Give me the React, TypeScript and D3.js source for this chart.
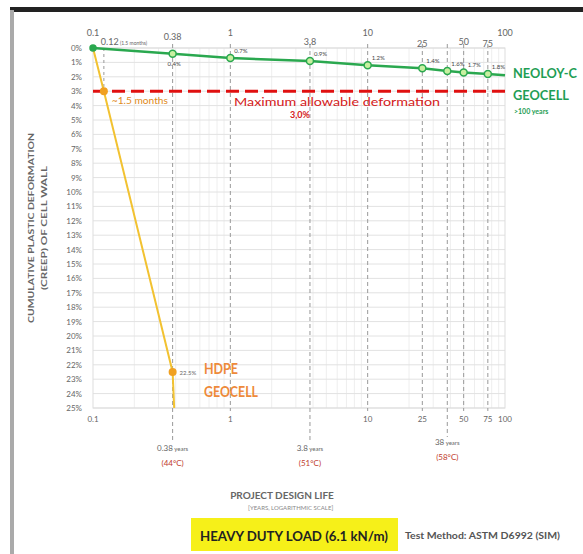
import React from 'react';
import * as d3 from 'd3';

// 数据：年份（对数轴）与累计塑性变形（%）
const neoloyYears = [0.1, 0.38, 1, 3.8, 10, 25, 38, 50, 75, 100];
const neoloyCreep = [0, 0.4, 0.7, 0.9, 1.2, 1.4, 1.6, 1.7, 1.8, 1.9];
const neoloyMarked = [true, true, true, true, true, true, true, true, true, false];
const neoloyLabels = ['', '0.4%', '0.7%', '0.9%', '1.2%', '1.4%', '1.6%', '1.7%', '1.8%', ''];

const hdpeYears = [0.1, 0.12, 0.38, 0.39];
const hdpeCreep = [0, 3, 22.5, 25];
const hdpeMarked = [false, true, true, false];

const yTicks = d3.range(0, 26);
const topTicks = [
  { v: 0.1, t: '0.1', dy: 0 },
  { v: 0.38, t: '0.38', dy: 4 },
  { v: 1, t: '1', dy: 0 },
  { v: 3.8, t: '3.8', dy: 9 },
  { v: 10, t: '10', dy: 0 },
  { v: 25, t: '25', dy: 11 },
  { v: 50, t: '50', dy: 9 },
  { v: 75, t: '75', dy: 11 },
  { v: 100, t: '100', dy: 0 },
];
const bottomTicks = [0.1, 1, 10, 25, 50, 75, 100];
const longDashed = [0.38, 3.8, 38];
const plotDashed = [1, 10, 25, 50, 75];
const stageLabels = [
  { v: 0.38, t: '0.38', temp: '(44°C)', dy: 0 },
  { v: 3.8, t: '3.8', temp: '(51°C)', dy: 0 },
  { v: 38, t: '38', temp: '(58°C)', dy: -6 },
];
const maxDeform = 3;

const W = 583, H = 554;
const left = 93, right = 505, top = 48, bottom = 408;

export default function App() {
  const x = d3.scaleLog().domain([0.1, 100]).range([left, right]);
  const y = d3.scaleLinear().domain([0, 25]).range([top, bottom]);

  // 次级对数网格
  const minor: number[] = [];
  [0.1, 1, 10].forEach(d => { for (let i = 2; i < 10; i++) minor.push(d * i); });

  const line = d3.line<[number, number]>().x(d => x(d[0])).y(d => y(d[1]));
  const neoPts = neoloyYears.map((v, i) => [v, neoloyCreep[i]] as [number, number]);
  const hdpePts = hdpeYears.map((v, i) => [v, hdpeCreep[i]] as [number, number]);

  const font = 'Lato, "Open Sans", sans-serif';
  const gray = '#666';

  return (
    <svg width={W} height={H} style={{ position: 'absolute', left: 0, top: 0, background: '#fff' }} fontFamily={font}>
      {/* 照片边框 */}
      <rect x={10} y={7} width={W - 10} height={5} fill="#222" />
      <rect x={10} y={10} width={4} height={H - 10} fill="#aaa" />

      {/* 网格 */}
      {minor.map(v => (
        <line key={'m' + v} x1={x(v)} x2={x(v)} y1={top} y2={bottom} stroke="#eee" strokeWidth={1} />
      ))}
      {yTicks.map(t => (
        <line key={'g' + t} x1={left} x2={right} y1={y(t)} y2={y(t)} stroke="#e2e2e2" strokeWidth={1} />
      ))}
      <rect x={left} y={top} width={right - left} height={bottom - top} fill="none" stroke="#ddd" />

      {/* 竖直虚线 */}
      {plotDashed.map(v => (
        <line key={'d' + v} x1={x(v)} x2={x(v)} y1={top - 4} y2={bottom + 3} stroke="#999" strokeDasharray="4,3" />
      ))}
      {longDashed.map(v => (
        <line key={'l' + v} x1={x(v)} x2={x(v)} y1={top - 4} y2={v === 38 ? 437 : 443} stroke="#999" strokeDasharray="4,3" />
      ))}
      <line x1={x(0.12)} x2={x(0.12)} y1={top} y2={y(maxDeform)} stroke="#999" strokeDasharray="3,3" />

      {/* Y 轴刻度 */}
      {yTicks.map(t => (
        <text key={'y' + t} x={82} y={y(t) + 3} textAnchor="end" fontSize={8} fill={gray}>{t}%</text>
      ))}
      <g transform={`translate(34, ${(top + bottom) / 2}) rotate(-90)`}>
        <text textAnchor="middle" fontSize={7} fontWeight="bold" fill={gray} textLength={190} lengthAdjust="spacingAndGlyphs">CUMULATIVE PLASTIC DEFORMATION</text>
        <text y={13} textAnchor="middle" fontSize={7} fontWeight="bold" fill={gray} textLength={124} lengthAdjust="spacingAndGlyphs">(CREEP) OF CELL WALL</text>
      </g>

      {/* 顶部刻度 */}
      {topTicks.map(d => (
        <text key={'t' + d.v} x={x(d.v)} y={36 + d.dy} textAnchor="middle" fontSize={9} fill={gray}>{d.t}</text>
      ))}
      <text x={x(0.12) - 3} y={45} fontSize={9} fill={gray}>0.12<tspan fontSize={5}> (1.5 months)</tspan></text>

      {/* 底部刻度 */}
      {bottomTicks.map(v => (
        <text key={'b' + v} x={x(v)} y={422} textAnchor="middle" fontSize={8} fill={gray}>{v}</text>
      ))}
      {stageLabels.map(d => (
        <g key={'s' + d.v}>
          <text x={x(d.v)} y={451 + d.dy} textAnchor="middle" fontSize={8} fill={gray}>{d.t}<tspan fontSize={6}> years</tspan></text>
          <text x={x(d.v)} y={466 + d.dy} textAnchor="middle" fontSize={8} fill="#c0392b">{d.temp}</text>
        </g>
      ))}

      {/* 最大允许变形 */}
      <line x1={left} x2={right} y1={y(maxDeform)} y2={y(maxDeform)} stroke="#e01010" strokeWidth={3} strokeDasharray="13,6" />
      <text x={234} y={106} fontSize={11} fill="#d42020" textLength={206} lengthAdjust="spacingAndGlyphs">Maximum allowable deformation</text>
      <text x={300} y={118} textAnchor="middle" fontSize={9} fontWeight="bold" fill="#d42020">3,0%</text>

      {/* HDPE 线 */}
      <path d={line(hdpePts) || ''} fill="none" stroke="#f2c231" strokeWidth={2} />
      {hdpePts.map((p, i) => hdpeMarked[i] && (
        <circle key={'h' + i} cx={x(p[0])} cy={y(p[1])} r={4} fill="#f0a020" />
      ))}
      <text x={x(0.12) + 8} y={y(3) + 13} fontSize={9} fill="#e08a20" textLength={56} lengthAdjust="spacingAndGlyphs">~1.5 months</text>
      <text x={x(0.38) + 7} y={y(22.5) + 3} fontSize={6} fill={gray}>22.5%</text>
      <text x={204} y={374} fontSize={15} fontWeight="bold" fill="#ee8a3a" textLength={34} lengthAdjust="spacingAndGlyphs">HDPE</text>
      <text x={204} y={397} fontSize={15} fontWeight="bold" fill="#ee8a3a" textLength={54} lengthAdjust="spacingAndGlyphs">GEOCELL</text>

      {/* NEOLOY-C 线 */}
      <path d={line(neoPts) || ''} fill="none" stroke="#2aa84f" strokeWidth={2.5} />
      {neoPts.map((p, i) => neoloyMarked[i] && (
        <circle key={'n' + i} cx={x(p[0])} cy={y(p[1])} r={i === 0 ? 3 : 3.5} fill={i === 0 ? '#2aa84f' : '#c8f0a0'} stroke="#2aa84f" strokeWidth={1.5} />
      ))}
      {neoPts.map((p, i) => neoloyLabels[i] && (
        <text key={'nl' + i} x={x(p[0]) + (i === 1 ? -5 : 4)} y={y(p[1]) + (i === 1 ? 12 : -5)} fontSize={6} fill="#444">{neoloyLabels[i]}</text>
      ))}
      <text x={513} y={78} fontSize={14} fontWeight="bold" fill="#1f9e55" textLength={64} lengthAdjust="spacingAndGlyphs">NEOLOY-C</text>
      <text x={513} y={100} fontSize={14} fontWeight="bold" fill="#1f9e55" textLength={56} lengthAdjust="spacingAndGlyphs">GEOCELL</text>
      <text x={514} y={114} fontSize={7} fontWeight="bold" fill="#1f9e55">&gt;100 years</text>

      {/* 底部标题 */}
      <text x={282} y={499} textAnchor="middle" fontSize={10} fontWeight="bold" fill={gray}>PROJECT DESIGN LIFE</text>
      <text x={248} y={510} fontSize={6} fill="#888">[YEARS, LOGARITHMIC SCALE]</text>
      <rect x={191} y={518} width={207} height={33} fill="#f6f019" />
      <text x={294} y={541} textAnchor="middle" fontSize={14} fontWeight="bold" fill="#222" textLength={188} lengthAdjust="spacingAndGlyphs">HEAVY DUTY LOAD (6.1 kN/m)</text>
      <text x={405} y={539} fontSize={10} fontWeight="bold" fill="#555" textLength={155} lengthAdjust="spacingAndGlyphs">Test Method: ASTM D6992 (SIM)</text>
    </svg>
  );
}
